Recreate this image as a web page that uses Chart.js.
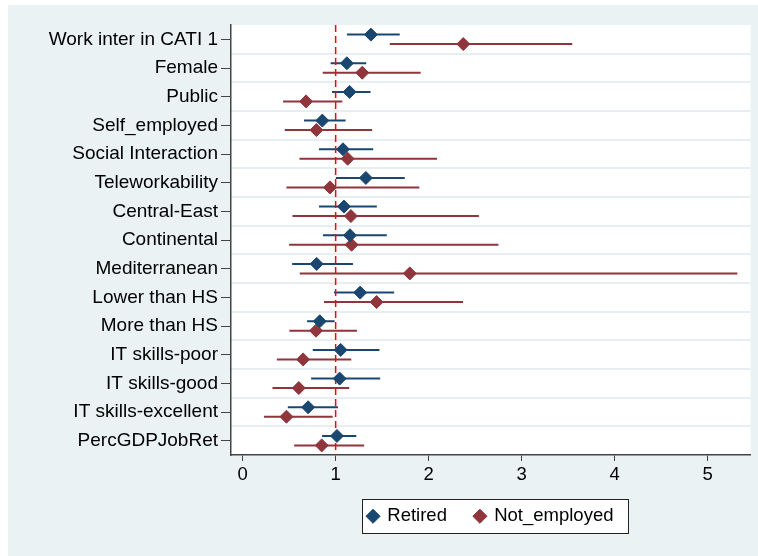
<!DOCTYPE html>
<html>
<head>
<meta charset="utf-8">
<script src="https://cdn.jsdelivr.net/npm/chart.js@4/dist/chart.umd.min.js"></script>
<style>
  html, body { margin: 0; padding: 0; background: #ffffff; }
  #wrap {
    position: absolute; left: 8px; top: 5px;
    width: 750px; height: 551px;
    background: #eaf2f3;
  }
</style>
</head>
<body>
<div id="wrap"><canvas id="coefChart" width="750" height="551"></canvas></div>
<script>
  // odds ratios with 95% CI, one row per covariate
  const categories = [
    'Work inter in CATI 1', 'Female', 'Public', 'Self_employed', 'Social Interaction',
    'Teleworkability', 'Central-East', 'Continental', 'Mediterranean', 'Lower than HS',
    'More than HS', 'IT skills-poor', 'IT skills-good', 'IT skills-excellent', 'PercGDPJobRet'
  ];

  const retiredCoef = [1.379, 1.121, 1.150, 0.857, 1.079, 1.325, 1.089, 1.154, 0.796, 1.264, 0.829, 1.054, 1.043, 0.704, 1.014];
  const retiredLo   = [1.121, 0.946, 0.961, 0.660, 0.821, 1.003, 0.821, 0.864, 0.532, 0.982, 0.693, 0.754, 0.736, 0.486, 0.854];
  const retiredHi   = [1.689, 1.329, 1.375, 1.107, 1.404, 1.743, 1.443, 1.550, 1.186, 1.629, 0.989, 1.471, 1.479, 1.025, 1.222];

  const notEmpCoef  = [2.372, 1.286, 0.682, 0.793, 1.129, 0.939, 1.164, 1.171, 1.797, 1.440, 0.789, 0.650, 0.604, 0.471, 0.850];
  const notEmpLo    = [1.582, 0.861, 0.435, 0.453, 0.611, 0.471, 0.536, 0.500, 0.614, 0.875, 0.503, 0.368, 0.321, 0.229, 0.554];
  const notEmpHi    = [3.544, 1.914, 1.072, 1.393, 2.090, 1.900, 2.540, 2.750, 5.319, 2.369, 1.229, 1.168, 1.146, 0.968, 1.307];

  const xTicks = [0, 1, 2, 3, 4, 5];
  const refValue = 1;

  const BLUE = '#1a476f';
  const RED = '#90353b';
  const FAMILY = '"Liberation Sans", Arial, Helvetica, sans-serif';
  const FONT = { family: FAMILY, size: 18.5 };
  const SHIFT = 0.165;   // vertical offset of the two models inside a row

  function points(coef, shift) {
    return coef.map((v, i) => ({ x: v, y: i + shift }));
  }

  // CI segments separated by a gap point so the line breaks between rows
  function segments(lo, hi, shift) {
    const out = [];
    lo.forEach((v, i) => {
      out.push({ x: v, y: i + shift }, { x: hi[i], y: i + shift }, { x: v, y: null });
    });
    return out;
  }

  // white plot region + framed legend box
  const backdrop = {
    id: 'backdrop',
    afterLayout(chart) {
      // x axis box is kept short so the legend sits close; let its labels overflow downwards
      const x = chart.scales.x;
      x.bottom = x.top + 36;
    },
    beforeDraw(chart) {
      const { ctx, chartArea: a } = chart;
      ctx.save();
      ctx.fillStyle = '#ffffff';
      ctx.fillRect(a.left, a.top, a.right - a.left, a.bottom - a.top);

      const boxes = chart.legend && chart.legend.legendHitBoxes;
      if (boxes && boxes.length) {
        const left = Math.min(...boxes.map(b => b.left)) - 6;
        const right = Math.max(...boxes.map(b => b.left + b.width)) + 15;
        const cy = boxes[0].top + boxes[0].height / 2;
        ctx.fillRect(left, cy - 17, right - left, 34);
        ctx.strokeStyle = '#222222';
        ctx.lineWidth = 1;
        ctx.strokeRect(Math.round(left) + 0.5, Math.round(cy - 17) + 0.5, Math.round(right - left), 34);
      }
      ctx.restore();
    }
  };

  const yRange = { min: -0.5, max: categories.length - 0.5 };

  new Chart(document.getElementById('coefChart'), {
    type: 'scatter',
    data: {
      datasets: [
        {
          label: 'Retired',
          data: points(retiredCoef, -SHIFT),
          pointStyle: 'rectRot',
          pointRadius: 6.5,
          pointBorderWidth: 1,
          backgroundColor: BLUE,
          borderColor: BLUE
        },
        {
          label: 'Not_employed',
          data: points(notEmpCoef, SHIFT),
          pointStyle: 'rectRot',
          pointRadius: 6.5,
          pointBorderWidth: 1,
          backgroundColor: RED,
          borderColor: RED
        },
        {
          label: 'ref',
          data: [{ x: refValue, y: yRange.min }, { x: refValue, y: yRange.max }],
          showLine: true,
          borderColor: '#ff0000',
          borderWidth: 1.5,
          borderDash: [7, 4],
          pointRadius: 0
        },
        {
          label: 'ci_retired',
          data: segments(retiredLo, retiredHi, -SHIFT),
          showLine: true,
          spanGaps: false,
          borderColor: BLUE,
          borderWidth: 2,
          pointRadius: 0
        },
        {
          label: 'ci_notemp',
          data: segments(notEmpLo, notEmpHi, SHIFT),
          showLine: true,
          spanGaps: false,
          borderColor: RED,
          borderWidth: 2,
          pointRadius: 0
        }
      ]
    },
    options: {
      responsive: false,
      animation: false,
      layout: { padding: { top: 20, right: 6, bottom: 20.5, left: 0 } },
      plugins: {
        tooltip: { enabled: false },
        legend: {
          position: 'bottom',
          fullSize: false,
          labels: {
            usePointStyle: true,
            boxWidth: 10,
            boxHeight: 10,
            padding: 28,
            color: '#000000',
            font: FONT,
            filter: (item) => item.datasetIndex < 2
          }
        }
      },
      scales: {
        x: {
          type: 'linear',
          min: -0.125,
          max: 5.46,
          afterBuildTicks: (scale) => { scale.ticks = xTicks.map(v => ({ value: v })); },
          afterFit: (scale) => { scale.height = 24; },
          grid: { drawOnChartArea: false, drawTicks: true, tickLength: 6, color: '#444444', lineWidth: 1 },
          border: { display: true, color: '#444444', width: 1.5 },
          ticks: { color: '#000000', font: FONT, padding: 3, maxRotation: 0 }
        },
        y: {
          type: 'linear',
          position: 'left',
          min: yRange.min,
          max: yRange.max,
          reverse: true,
          afterBuildTicks: (scale) => { scale.ticks = categories.map((c, i) => ({ value: i })); },
          afterFit: (scale) => { scale.width = 223; },
          grid: { drawOnChartArea: false, drawTicks: true, tickLength: 10, color: '#444444', lineWidth: 1 },
          border: { display: true, color: '#444444', width: 1.5 },
          ticks: {
            color: '#000000',
            font: { family: FAMILY, size: 19 },
            padding: 3,
            autoSkip: false,
            callback: (v) => categories[v]
          }
        },
        // separators between rows
        rows: {
          type: 'linear',
          position: 'left',
          min: yRange.min,
          max: yRange.max,
          reverse: true,
          afterBuildTicks: (scale) => {
            scale.ticks = categories.slice(1).map((c, i) => ({ value: i + 0.5 }));
          },
          afterFit: (scale) => { scale.width = 0; },
          grid: { drawTicks: false, tickLength: 0, color: '#e6eef1', lineWidth: 2 },
          border: { display: false },
          ticks: { display: false }
        }
      }
    },
    plugins: [backdrop]
  });
</script>
</body>
</html>
